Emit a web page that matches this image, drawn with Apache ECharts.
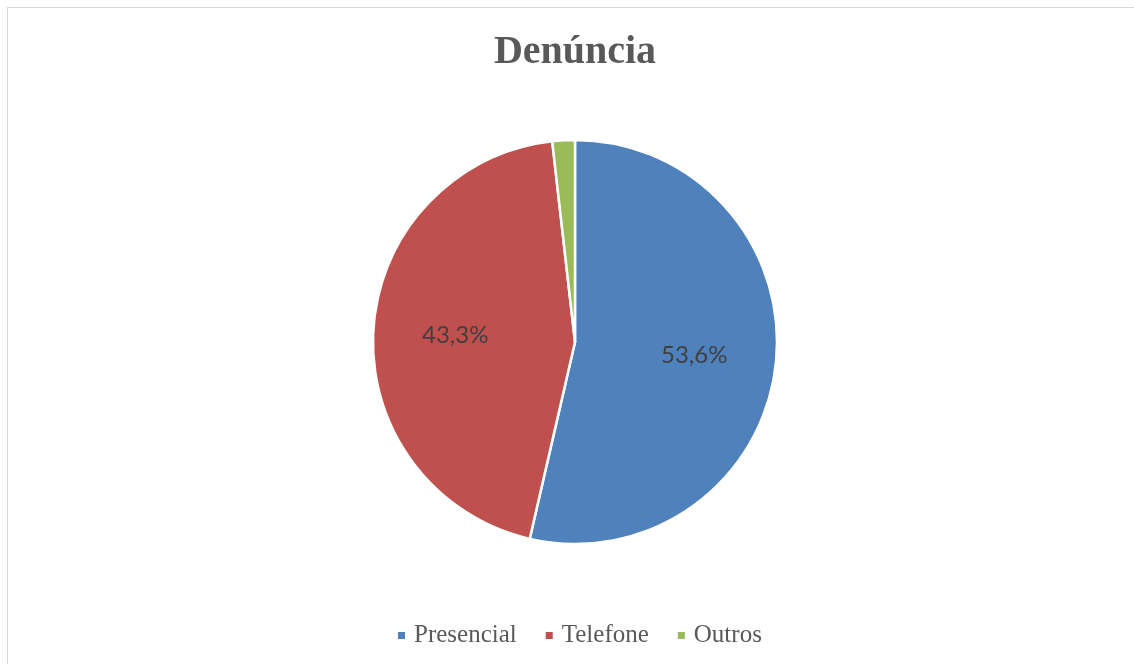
<!DOCTYPE html>
<html>
<head>
<meta charset="utf-8">
<script src="https://cdn.jsdelivr.net/npm/echarts@6/dist/echarts.min.js"></script>
<style>
  html, body { margin: 0; padding: 0; background: #ffffff; overflow: hidden; }
  #frame { position: absolute; left: 7px; top: 7px; width: 1140px; height: 670px; border: 1px solid #d9d9d9; box-sizing: border-box; }
  #chart { position: absolute; left: 0; top: 0; width: 1134px; height: 664px; }
</style>
</head>
<body>
<div id="frame"></div>
<div id="chart"></div>
<script>
const titleText = 'Denúncia';
const categories = ['Presencial', 'Telefone', 'Outros'];
const values = [53.6, 44.6, 1.8];
const percentLabels = ['53,6%', '43,3%', ''];
const colors = ['#4F81BD', '#C0504D', '#9BBB59'];

const chart = echarts.init(document.getElementById('chart'), null, { renderer: 'canvas' });

const pieData = categories.map((c, i) => ({ name: c, value: values[i], itemStyle: { color: colors[i] } }));
const labelData = categories.map((c, i) => ({ name: c, value: values[i] }));

chart.setOption({
  backgroundColor: 'transparent',
  animation: false,
  title: {
    text: titleText,
    left: 570,
    textAlign: 'center',
    top: 28,
    textStyle: { fontFamily: 'Liberation Serif', fontWeight: 'bold', fontSize: 40, color: '#595959' }
  },
  legend: {
    data: categories,
    left: 391,
    top: 618,
    icon: 'rect',
    itemWidth: 9,
    itemHeight: 9,
    itemGap: 27,
    textStyle: { fontFamily: 'Liberation Serif', fontSize: 25, color: '#595959', padding: [0, 0, 0, 3] }
  },
  series: [
    {
      type: 'pie',
      center: [575, 342],
      radius: [0, 202],
      startAngle: 90,
      clockwise: true,
      data: pieData,
      label: { show: false },
      labelLine: { show: false },
      itemStyle: { borderColor: '#ffffff', borderWidth: 2.5 },
      emphasis: { disabled: true }
    },
    {
      type: 'pie',
      center: [575, 342],
      radius: [0, 234],
      startAngle: 90,
      clockwise: true,
      silent: true,
      data: labelData,
      itemStyle: { color: 'rgba(0,0,0,0)', borderWidth: 0 },
      label: {
        show: true,
        position: 'inside',
        fontFamily: 'Lato',
        fontSize: 24,
        color: '#404040',
        formatter: p => percentLabels[p.dataIndex]
      },
      labelLine: { show: false },
      emphasis: { disabled: true }
    }
  ]
});
</script>
</body>
</html>
